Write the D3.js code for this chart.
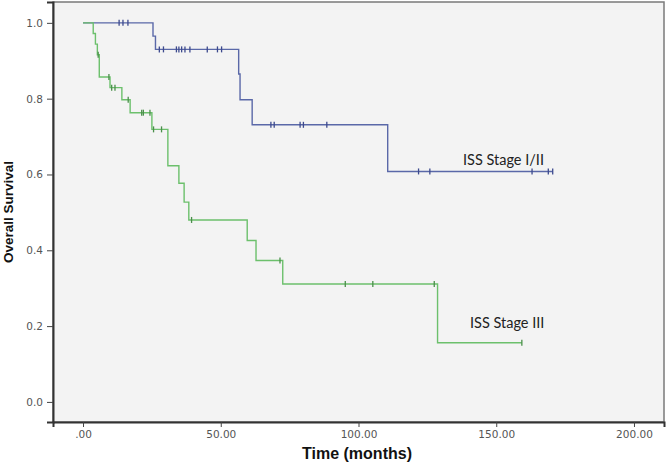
<!DOCTYPE html>
<html>
  <head>
    <meta charset="utf-8">
    <title>Overall Survival by ISS Stage</title>
    <style>
      body {
        margin: 0;
        background: #fff;
      }
      .tick text {
        font-family: "DejaVu Sans", Verdana, sans-serif;
        font-size: 10.5px;
        fill: #555;
      }
      .axis-title {
        font-family: "Liberation Sans", Arial, sans-serif;
        font-weight: bold;
        fill: #111;
      }
      .curve-label {
        font-family: Lato, "Open Sans", sans-serif;
        font-size: 14.5px;
        fill: #222;
      }
    </style>
  </head>
  <body>
    <div id="chart"></div>
    <script src="https://cdn.jsdelivr.net/npm/d3@7"></script>
    <script>
    // ISS Stage I/II: drop times (months) and survival after each drop
    var stage12Times = [25.4, 26.3, 56.5, 57.0, 61.4, 110.6];
    var stage12Surv  = [0.965, 0.93, 0.865, 0.797, 0.731, 0.608];
    var stage12Censored = [13.1, 14.5, 16.3, 27.7, 29.2, 33.9, 34.8, 35.8, 37.0, 38.8,
                           45.1, 48.8, 50.3, 68.2, 69.4, 78.8, 80.0, 88.5,
                           121.8, 125.9, 163.0, 168.9, 170.5];

    // ISS Stage III
    var stage3Times = [3.7, 4.5, 5.2, 5.9, 9.8, 14.1, 17.1, 25.0, 30.8, 34.8, 36.7, 38.4,
                       59.6, 62.8, 72.5, 128.7];
    var stage3Surv  = [0.972, 0.944, 0.916, 0.857, 0.829, 0.797, 0.763, 0.719, 0.623,
                       0.577, 0.527, 0.48, 0.426, 0.373, 0.311, 0.156];
    var stage3Censored = [5.5, 9.4, 10.4, 11.6, 16.4, 21.3, 21.9, 24.3, 25.6, 28.5,
                          39.4, 71.5, 95.2, 105.2, 127.5, 159.3];

    var xTicks = [0, 50, 100, 150, 200];
    var yTicks = [0, 0.2, 0.4, 0.6, 0.8, 1.0];

    var width = 667, height = 463;
    var plotLeft = 53, plotRight = 664, plotTop = 2, plotBottom = 422;

    var svg = d3.select("#chart").append("svg")
        .attr("width", width)
        .attr("height", height);

    var x = d3.scaleLinear().domain([-10.9, 210.9]).range([plotLeft, plotRight]);
    var y = d3.scaleLinear().domain([-0.053, 1.055]).range([plotBottom, plotTop]);

    // plot background + frame
    svg.append("rect")
        .attr("x", plotLeft).attr("y", plotTop)
        .attr("width", plotRight - plotLeft).attr("height", plotBottom - plotTop)
        .style("fill", "#f3f3f3")
        .style("stroke", "#7a7a7a")
        .style("stroke-width", 1.5);

    var xAxis = svg.append("g")
        .attr("transform", "translate(0," + plotBottom + ")")
        .call(d3.axisBottom(x).tickValues(xTicks).tickSize(5).tickPadding(4)
            .tickFormat(function(d) { return d === 0 ? ".00" : d3.format(".2f")(d); }));
    xAxis.select(".domain").style("stroke", "#333").style("stroke-width", 2);
    xAxis.selectAll(".tick line").style("stroke", "#444");

    var yAxis = svg.append("g")
        .attr("transform", "translate(" + plotLeft + ",0)")
        .call(d3.axisLeft(y).tickValues(yTicks).tickSize(6).tickPadding(4)
            .tickFormat(d3.format(".1f")));
    yAxis.select(".domain").style("stroke", "#333").style("stroke-width", 2);
    yAxis.selectAll(".tick line").style("stroke", "#444");

    svg.append("text")
        .attr("class", "axis-title")
        .attr("x", 357).attr("y", 459)
        .attr("text-anchor", "middle")
        .style("font-size", "16px")
        .text("Time (months)");

    svg.append("text")
        .attr("class", "axis-title")
        .attr("transform", "translate(13,212) rotate(-90)")
        .attr("text-anchor", "middle")
        .style("font-size", "13.5px")
        .text("Overall Survival");

    function survivalAt(times, surv, t) {
        var s = 1;
        for (var i = 0; i < times.length; i++) {
            if (times[i] <= t) s = surv[i];
        }
        return s;
    }

    function drawCurve(times, surv, censored, lineCol, markCol) {
        var endTime = d3.max(censored.concat(times));
        var pts = [[0, 1]];
        times.forEach(function(t, i) { pts.push([t, surv[i]]); });
        pts.push([endTime, surv[surv.length - 1]]);

        var line = d3.line()
            .x(function(d) { return x(d[0]); })
            .y(function(d) { return y(d[1]); })
            .curve(d3.curveStepAfter);

        svg.append("path")
            .datum(pts)
            .attr("d", line)
            .style("fill", "none")
            .style("stroke", lineCol)
            .style("stroke-width", 1.4);

        svg.append("g").selectAll("line")
            .data(censored)
            .enter().append("line")
            .attr("x1", function(d) { return x(d); })
            .attr("x2", function(d) { return x(d); })
            .attr("y1", function(d) { return y(survivalAt(times, surv, d)) - 3; })
            .attr("y2", function(d) { return y(survivalAt(times, surv, d)) + 3; })
            .style("stroke", markCol)
            .style("stroke-width", 1.3);
    }

    drawCurve(stage12Times, stage12Surv, stage12Censored, "#5a68a8", "#3d4a8e");
    drawCurve(stage3Times, stage3Surv, stage3Censored, "#6cc06c", "#4a8f4a");

    svg.append("text")
        .attr("class", "curve-label")
        .attr("x", 463).attr("y", 165)
        .text("ISS Stage I/II");

    svg.append("text")
        .attr("class", "curve-label")
        .attr("x", 470).attr("y", 328)
        .text("ISS Stage III");
    </script>
  </body>
</html>
